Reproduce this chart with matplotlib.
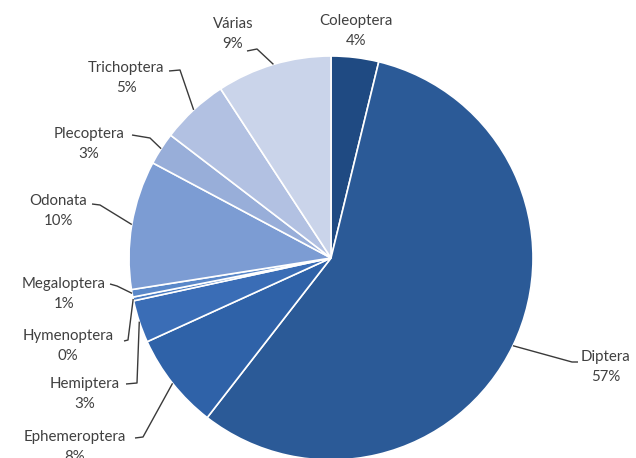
import matplotlib
matplotlib.use("Agg")
import matplotlib.pyplot as plt
import numpy as np

# Share of individuals per insect order (%)
categories = ["Coleoptera", "Diptera", "Ephemeroptera", "Hemiptera", "Hymenoptera",
              "Megaloptera", "Odonata", "Plecoptera", "Trichoptera", "Várias"]
shares = [3.8, 56.7, 7.7, 3.4, 0.3, 0.6, 10.3, 2.6, 5.4, 9.2]
colors = ["#1F4A82", "#2B5A97", "#2F62A8", "#3A6DB6", "#4A7CC2",
          "#5A88C9", "#7C9CD3", "#98AED9", "#B2C1E2", "#CAD4EA"]

# Label block centres and leader-line bends (pixel coords, y measured from top)
label_pos = {
    "Coleoptera": (356, 31),
    "Diptera": (606, 367),
    "Ephemeroptera": (75, 447),
    "Hemiptera": (85, 394),
    "Hymenoptera": (68, 346),
    "Megaloptera": (64, 294),
    "Odonata": (58, 211),
    "Plecoptera": (89, 144),
    "Trichoptera": (126, 78),
    "Várias": (233, 34),
}
leader_bends = {
    "Coleoptera": [],
    "Diptera": [(578, 362), (572, 362)],
    "Ephemeroptera": [(135, 438), (143, 437)],
    "Hemiptera": [(126, 384), (137, 383)],
    "Hymenoptera": [(124, 341), (128, 340)],
    "Megaloptera": [(110, 284), (117, 286)],
    "Odonata": [(92, 204), (100, 205)],
    "Plecoptera": [(132, 135), (150, 138)],
    "Trichoptera": [(169, 71), (180, 70)],
    "Várias": [(247, 51), (257, 49)],
}

W, H = 636, 458
fig = plt.figure(figsize=(W / 100, H / 100), dpi=100)
fig.patch.set_facecolor("white")
ax = fig.add_axes([0, 0, 1, 1])

cx, cy, r = 331, H - 258, 202
wedges, _ = ax.pie(shares, colors=colors, startangle=90, counterclock=False,
                   center=(cx, cy), radius=r,
                   wedgeprops=dict(edgecolor="white", linewidth=1.2))
ax.set_xlim(0, W)
ax.set_ylim(0, H)
ax.set_aspect("equal")
ax.axis("off")

text_color = "#404040"
for name, share, w in zip(categories, shares, wedges):
    mid = np.deg2rad((w.theta1 + w.theta2) / 2)
    ex, ey = cx + r * np.cos(mid), cy + r * np.sin(mid)
    bends = leader_bends[name]
    if bends:
        xs = [p[0] for p in bends] + [ex]
        ys = [H - p[1] for p in bends] + [ey]
        ax.plot(xs, ys, color="#3A3A3A", lw=1.0, solid_capstyle="butt", zorder=3)
    tx, ty = label_pos[name]
    ax.text(tx, H - ty, f"{name}\n{share:.0f}%", ha="center", va="center",
            fontsize=10.8, family=["Lato", "DejaVu Sans"], color=text_color,
            linespacing=1.6, zorder=4)

fig.savefig("out.png", dpi=100, facecolor="white")
